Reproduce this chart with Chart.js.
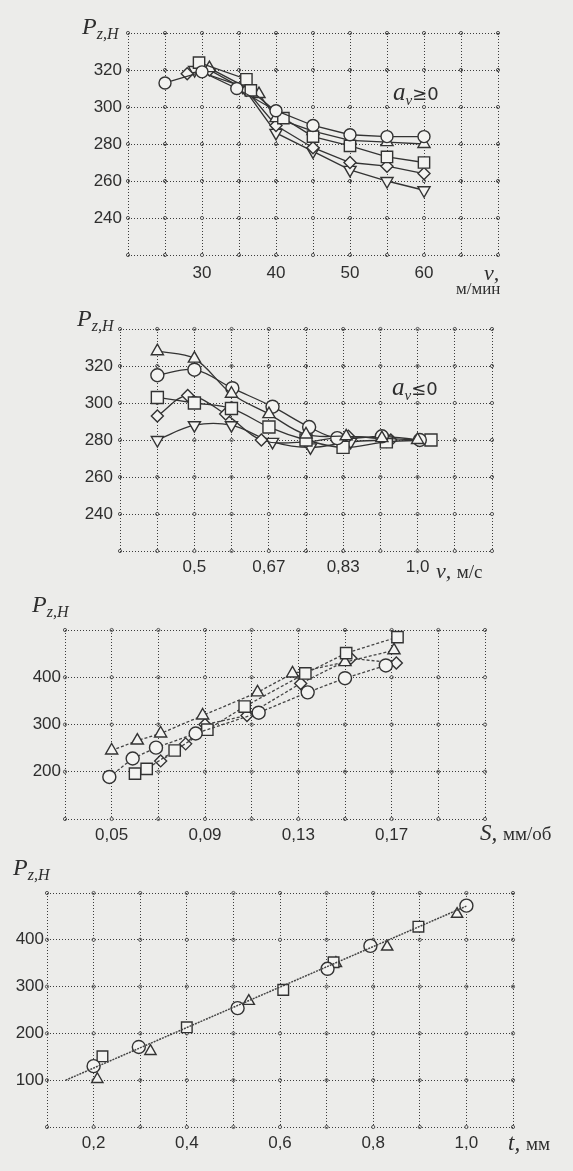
<!DOCTYPE html>
<html>
<head>
<meta charset="utf-8">
<script src="https://cdn.jsdelivr.net/npm/chart.js@4.4.1/dist/chart.umd.min.js"></script>
<style>
  body { margin: 0; background: #ececea; }
  #page { position: relative; width: 573px; height: 1171px; overflow: hidden; }
  canvas { position: absolute; left: 0; }
  .lbl { position: absolute; font-family: "Liberation Serif", serif; font-style: italic; color: #2e2e2e; white-space: nowrap; line-height: 1; }
  .pz { font-size: 24px; }
  .pz sub { font-size: 16px; vertical-align: -5px; }
  .av { font-size: 25px; }
  .av sub { font-size: 15px; vertical-align: -5px; }
  .av span { font-style: normal; font-family: "DejaVu Sans", sans-serif; font-size: 18px; }
  .unit { font-style: normal; font-size: 19px; }
</style>
</head>
<body>
<div id="page">
  <canvas id="c1" width="573" height="300" style="top:0px"></canvas>
  <canvas id="c2" width="573" height="290" style="top:300px"></canvas>
  <canvas id="c3" width="573" height="260" style="top:590px"></canvas>
  <canvas id="c4" width="573" height="311" style="top:860px"></canvas>

  <div class="lbl pz" style="left:82px;top:14px">P<sub>z,H</sub></div>
  <div class="lbl av" style="left:393px;top:79px">a<sub>ν</sub><span>≥0</span></div>
  <div class="lbl" style="left:484px;top:262px;font-size:22px">ν,</div>
  <div class="lbl unit" style="left:456px;top:280px;font-size:17px">м/мин</div>

  <div class="lbl pz" style="left:77px;top:306px">P<sub>z,H</sub></div>
  <div class="lbl av" style="left:392px;top:374px">a<sub>ν</sub><span>≤0</span></div>
  <div class="lbl" style="left:436px;top:560px;font-size:22px">ν, <span class="unit">м/с</span></div>

  <div class="lbl pz" style="left:32px;top:592px">P<sub>z,H</sub></div>
  <div class="lbl" style="left:480px;top:821px;font-size:23px">S, <span class="unit">мм/об</span></div>

  <div class="lbl pz" style="left:13px;top:855px">P<sub>z,H</sub></div>
  <div class="lbl" style="left:508px;top:1131px;font-size:23px">t, <span class="unit">мм</span></div>
</div>
<script>
// ---- chart 1: Pz vs v (m/min), a_v >= 0
const v1GridX = [20, 25, 30, 35, 40, 45, 50, 55, 60, 65, 70];
const v1TickX = [30, 40, 50, 60];
const pGridY = [220, 240, 260, 280, 300, 320, 340];
const pTickY = [240, 260, 280, 300, 320];

const c1CircleX = [25, 30, 34.7, 40, 45, 50, 55, 60];
const c1CircleY = [313, 319, 310, 298, 290, 285, 284, 284];
const c1SquareX = [29.6, 36, 36.6, 41, 45, 50, 55, 60];
const c1SquareY = [324, 315, 309, 294, 284, 279, 273, 270];
const c1TriUpX = [31, 37.7, 40, 45, 50, 55, 60];
const c1TriUpY = [321, 307, 294, 287, 282, 281, 280];
const c1DiamondX = [28, 31, 36, 40, 45, 50, 55, 60];
const c1DiamondY = [318, 320, 309, 290, 278, 270, 268, 264];
const c1TriDownX = [29, 35.5, 40, 45, 50, 55, 60];
const c1TriDownY = [320, 311, 286, 276, 266, 260, 255];

// ---- chart 2: Pz vs v (m/s), a_v <= 0
const v2GridX = [0.3333, 0.4167, 0.5, 0.5833, 0.6667, 0.75, 0.8333, 0.9167, 1.0, 1.0833, 1.1667];
const v2TickX = [0.5, 0.6667, 0.8333, 1.0];
const v2TickText = ['0,5', '0,67', '0,83', '1,0'];

const c2TriUpX = [0.417, 0.5, 0.583, 0.667, 0.75, 0.84, 0.92, 1.0];
const c2TriUpY = [328, 324, 305, 294, 283, 282, 281, 280];
const c2CircleX = [0.417, 0.5, 0.585, 0.675, 0.757, 0.82, 0.92, 1.005];
const c2CircleY = [315, 318, 308, 298, 287, 281, 282, 280];
const c2SquareX = [0.417, 0.5, 0.583, 0.667, 0.75, 0.833, 0.93, 1.03];
const c2SquareY = [303, 300, 297, 287, 280, 276, 279, 280];
const c2DiamondX = [0.417, 0.485, 0.57, 0.65, 0.75, 0.845, 0.94];
const c2DiamondY = [293, 304, 294, 280, 279, 282, 280];
const c2TriDownX = [0.417, 0.5, 0.583, 0.675, 0.76, 0.85, 0.93];
const c2TriDownY = [280, 288, 288, 279, 276, 279, 280];

// ---- chart 3: Pz vs S (mm/rev)
const s3GridX = [0.03, 0.05, 0.07, 0.09, 0.11, 0.13, 0.15, 0.17, 0.19, 0.21];
const s3TickX = [0.05, 0.09, 0.13, 0.17];
const s3TickText = ['0,05', '0,09', '0,13', '0,17'];
const p3GridY = [100, 200, 300, 400, 500];
const p3TickY = [200, 300, 400];

const c3CircleX = [0.049, 0.059, 0.069, 0.086, 0.113, 0.134, 0.150, 0.1675];
const c3CircleY = [189, 228, 251, 281, 325, 368, 398, 425];
const c3SquareX = [0.060, 0.065, 0.077, 0.091, 0.107, 0.133, 0.1505, 0.1725];
const c3SquareY = [196, 206, 245, 289, 338, 408, 451, 485];
const c3TriUpX = [0.050, 0.061, 0.071, 0.089, 0.1125, 0.1275, 0.150, 0.171];
const c3TriUpY = [245, 266, 281, 319, 368, 408, 432, 457];
const c3DiamondX = [0.071, 0.0817, 0.090, 0.108, 0.131, 0.1525, 0.172];
const c3DiamondY = [223, 259, 300, 319, 387, 440, 430];

// ---- chart 4: Pz vs t (mm)
const t4GridX = [0.1, 0.2, 0.3, 0.4, 0.5, 0.6, 0.7, 0.8, 0.9, 1.0, 1.1];
const t4TickX = [0.2, 0.4, 0.6, 0.8, 1.0];
const t4TickText = ['0,2', '0,4', '0,6', '0,8', '1,0'];
const p4GridY = [0, 100, 200, 300, 400, 500];
const p4TickY = [100, 200, 300, 400];

const c4FitX = [0.14, 1.0];
const c4FitY = [100, 472];
const c4CircleX = [0.2, 0.297, 0.509, 0.702, 0.794, 1.0];
const c4CircleY = [130, 171, 254, 338, 387, 473];
const c4SquareX = [0.219, 0.4, 0.607, 0.715, 0.897];
const c4SquareY = [151, 213, 293, 352, 428];
const c4TriX = [0.208, 0.322, 0.533, 0.72, 0.83, 0.98];
const c4TriY = [102, 162, 269, 350, 385, 455];

const INK = '#333';
const PAPER = '#f3f3f1';

// little rings where the dotted grid lines cross, like on the scan
const gridDots = {
  id: 'gridDots',
  beforeDatasetsDraw(chart) {
    const { ctx, scales: { x, y } } = chart;
    ctx.save();
    ctx.strokeStyle = '#555';
    ctx.lineWidth = 1;
    x.ticks.forEach(tx => {
      y.ticks.forEach(ty => {
        ctx.beginPath();
        ctx.arc(x.getPixelForValue(tx.value), y.getPixelForValue(ty.value), 1.6, 0, Math.PI * 2);
        ctx.stroke();
      });
    });
    ctx.restore();
  }
};

function xy(xs, ys) {
  return xs.map((x, i) => ({ x: x, y: ys[i] }));
}

function series(xs, ys, style, r, extra) {
  return Object.assign({
    data: xy(xs, ys),
    showLine: true,
    borderColor: INK,
    borderWidth: 1.3,
    pointStyle: style,
    pointRadius: r,
    pointBorderWidth: 1.4,
    pointBorderColor: INK,
    pointBackgroundColor: PAPER,
    tension: 0
  }, extra || {});
}

function labelFor(vals, texts) {
  return v => {
    const i = vals.findIndex(t => Math.abs(t - v) < 1e-6);
    if (i < 0) return '';
    return texts ? texts[i] : String(vals[i]);
  };
}

function scale(min, max, grid, vals, texts, pad, isX, size) {
  return {
    type: 'linear',
    min: min,
    max: max,
    afterBuildTicks: s => { s.ticks = grid.map(v => ({ value: v })); },
    afterFit: s => { if (isX) s.height = size; else s.width = size; },
    grid: { color: '#3c3c3c', lineWidth: 1, drawTicks: false },
    border: { display: false, dash: [1, 2] },
    ticks: {
      autoSkip: false,
      maxRotation: 0,
      padding: pad,
      color: '#2e2e2e',
      font: { family: 'Liberation Sans', size: 17 },
      callback: labelFor(vals, texts)
    }
  };
}

function makeChart(id, datasets, pad, xs, ys) {
  return new Chart(document.getElementById(id), {
    type: 'scatter',
    data: { datasets: datasets },
    options: {
      responsive: false,
      animation: false,
      layout: { padding: pad },
      plugins: { legend: { display: false }, tooltip: { enabled: false } },
      scales: { x: xs, y: ys }
    },
    plugins: [gridDots]
  });
}

// chart 1
makeChart('c1', [
  series(c1CircleX, c1CircleY, 'circle', 6),
  series(c1SquareX, c1SquareY, 'rect', 8),
  series(c1TriUpX, c1TriUpY, 'triangle', 7),
  series(c1DiamondX, c1DiamondY, 'rectRot', 6),
  series(c1TriDownX, c1TriDownY, 'triangle', 7, { pointRotation: 180 })
], { left: 0, top: 33, right: 75, bottom: 15 },
  scale(20, 70, v1GridX, v1TickX, null, 8, true, 30),
  scale(220, 340, pGridY, pTickY, null, 6, false, 128));

// chart 2
const smooth = { tension: 0.35 };
makeChart('c2', [
  series(c2TriUpX, c2TriUpY, 'triangle', 7, smooth),
  series(c2CircleX, c2CircleY, 'circle', 6.5, smooth),
  series(c2SquareX, c2SquareY, 'rect', 8.5, smooth),
  series(c2DiamondX, c2DiamondY, 'rectRot', 6, smooth),
  series(c2TriDownX, c2TriDownY, 'triangle', 7, { tension: 0.35, pointRotation: 180 })
], { left: 0, top: 29, right: 81, bottom: 9 },
  scale(0.3333, 1.1667, v2GridX, v2TickX, v2TickText, 6, true, 30),
  scale(220, 340, pGridY, pTickY, null, 7, false, 120));

// chart 3
const dash3 = { borderDash: [3, 2], borderColor: '#444' };
makeChart('c3', [
  series(c3CircleX, c3CircleY, 'circle', 6.5, dash3),
  series(c3SquareX, c3SquareY, 'rect', 8, dash3),
  series(c3TriUpX, c3TriUpY, 'triangle', 7, dash3),
  series(c3DiamondX, c3DiamondY, 'rectRot', 6, dash3)
], { left: 0, top: 40, right: 88, bottom: 3 },
  scale(0.03, 0.21, s3GridX, s3TickX, s3TickText, 6, true, 28),
  scale(100, 500, p3GridY, p3TickY, null, 4, false, 65));

// chart 4
makeChart('c4', [
  series(c4FitX, c4FitY, 'circle', 0, { borderDash: [2, 1], borderWidth: 1.5, borderColor: '#444' }),
  series(c4CircleX, c4CircleY, 'circle', 6.5, { showLine: false }),
  series(c4SquareX, c4SquareY, 'rect', 7.5, { showLine: false }),
  series(c4TriX, c4TriY, 'triangle', 6.5, { showLine: false })
], { left: 0, top: 33, right: 60, bottom: 14 },
  scale(0.1, 1.1, t4GridX, t4TickX, t4TickText, 6, true, 30),
  scale(0, 500, p4GridY, p4TickY, null, 3, false, 47));
</script>
</body>
</html>
